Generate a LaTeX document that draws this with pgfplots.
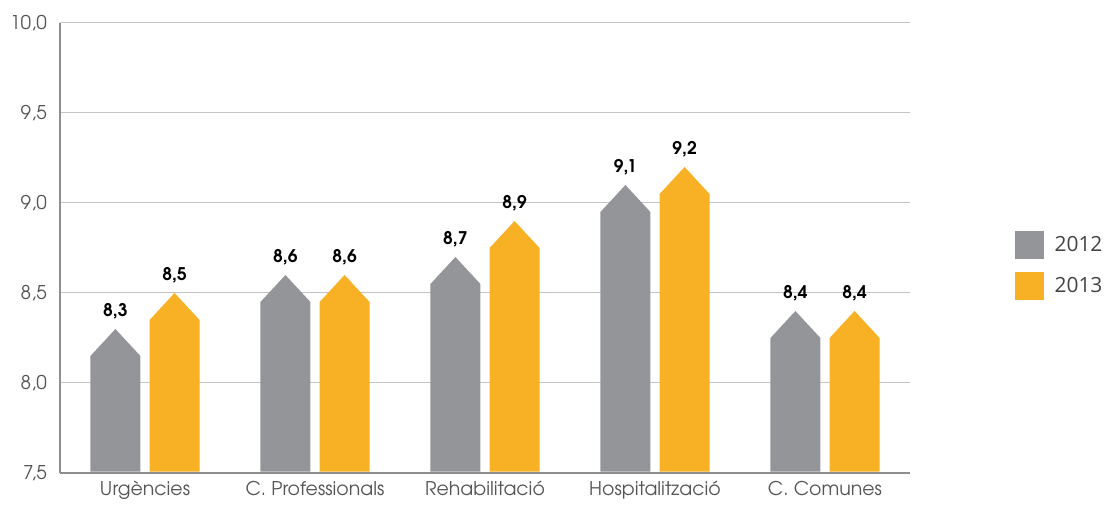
\documentclass[border=0pt]{standalone}
\usepackage{fontspec}
\setmainfont{TeX Gyre Adventor}
\newfontfamily\legfont{Open Sans}
\usepackage{pgfplots}
\pgfplotsset{compat=1.18}

\definecolor{cgray}{HTML}{939598}
\definecolor{corange}{HTML}{F8B024}
\definecolor{gridc}{HTML}{C4C4C4}
\definecolor{axisc}{HTML}{8E8E8E}
\definecolor{tickc}{HTML}{555555}
\definecolor{legc}{HTML}{444444}

% pentagon-shaped bar: #1 = x position, #2 = value (tip), #3 = colour
\newcommand{\pbar}[3]{%
  \pgfmathsetmacro{\xl}{#1-0.147}%
  \pgfmathsetmacro{\xr}{#1+0.147}%
  \pgfmathsetmacro{\ys}{#2-0.15}%
  \addplot[fill=#3, draw=none, forget plot] coordinates
    {(\xl,7.507) (\xl,\ys) (#1,#2) (\xr,\ys) (\xr,7.507)};
  \addplot[draw=none, mark=none, forget plot, nodes near coords] coordinates {(#1,#2)};
}

\begin{document}
\begin{tikzpicture}
\begin{axis}[
    name=ax,
    scale only axis,
    width=850bp, height=450bp,
    xmin=-0.5, xmax=4.5,
    ymin=7.5, ymax=10,
    ytick={7.5,8,8.5,9,9.5,10},
    xtick={0,1,2,3,4},
    xticklabels={Urgències, C. Professionals, Rehabilitació, Hospitalització, C. Comunes},
    axis lines=left,
    axis line style={-, draw=axisc, line width=2.5bp},
    major tick length=0pt,
    ymajorgrids,
    grid style={draw=gridc, line width=1bp},
    /pgf/number format/.cd, use comma, fixed, fixed zerofill, precision=1, assume math mode=true,
    /pgfplots/.cd,
    ticklabel style={font=\fontsize{19}{19}\selectfont, text=tickc},
    yticklabel style={inner sep=0pt, xshift=-13bp},
    xticklabel style={inner sep=0pt, yshift=-8bp},
    nodes near coords style={font=\bfseries\fontsize{17.5}{17.5}\selectfont, text=black, anchor=south, inner sep=0pt, yshift=10bp},
    legend style={draw=none, at={(1.1235,0.462)}, anchor=west, inner sep=0pt,
        font=\fontsize{21}{21}\selectfont, text=legc, row sep=14bp,
        cells={anchor=west}},
]
\addlegendimage{legend image code/.code={\fill[cgray] (0bp,-13.5bp) rectangle (28bp,13.5bp);}}
\addlegendentry{\hspace{9bp}\legfont 2012}
\addlegendimage{legend image code/.code={\fill[corange] (0bp,-13.5bp) rectangle (28bp,13.5bp);}}
\addlegendentry{\hspace{9bp}\legfont 2013}

% Urgències
\pbar{-0.174}{8.3}{cgray}
\pbar{0.174}{8.5}{corange}
% C. Professionals
\pbar{0.826}{8.6}{cgray}
\pbar{1.174}{8.6}{corange}
% Rehabilitació
\pbar{1.826}{8.7}{cgray}
\pbar{2.174}{8.9}{corange}
% Hospitalització
\pbar{2.826}{9.1}{cgray}
\pbar{3.174}{9.2}{corange}
% C. Comunes
\pbar{3.826}{8.4}{cgray}
\pbar{4.174}{8.4}{corange}
\end{axis}
\pgfresetboundingbox
\path ([shift={(-60bp,-39bp)}]ax.south west) rectangle ([shift={(197bp,23bp)}]ax.north east);
\end{tikzpicture}
\end{document}
